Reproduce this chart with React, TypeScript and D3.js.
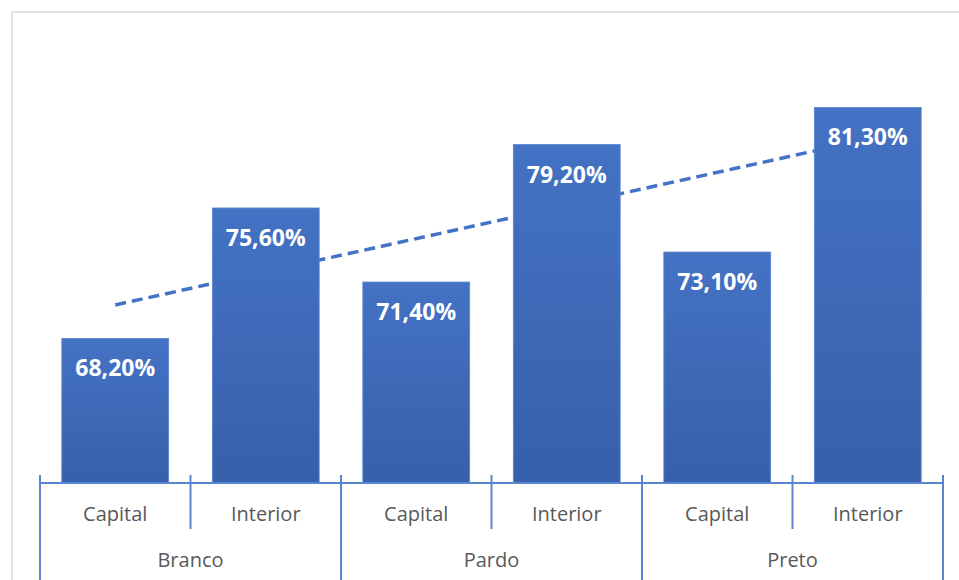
import { useEffect, useRef } from 'react';
import * as d3 from 'd3';

const groups = ['Branco', 'Pardo', 'Preto'];
const subCategories = ['Capital', 'Interior'];
const values = [68.2, 75.6, 71.4, 79.2, 73.1, 81.3];
const yDomain = [60, 85];

const W = 959;
const H = 580;

export default function App() {
  const ref = useRef<SVGSVGElement>(null);

  useEffect(() => {
    const svg = d3.select(ref.current);
    svg.selectAll('*').remove();

    const left = 40;
    const right = 943;
    const baseline = 483;
    const font = '"Open Sans", "Noto Sans", sans-serif';
    const blue = '#4472C4';

    const data = values.map((v, i) => ({
      key: `${groups[Math.floor(i / 2)]}-${subCategories[i % 2]}`,
      group: groups[Math.floor(i / 2)],
      sub: subCategories[i % 2],
      value: v,
      idx: i,
    }));

    const x = d3.scaleBand<string>()
      .domain(data.map(d => d.key))
      .range([left, right])
      .paddingInner(0.29)
      .paddingOuter(0.145);

    const y = d3.scaleLinear().domain(yDomain).range([baseline, baseline - 25 * 17.63]);

    const step = (right - left) / values.length;

    // chart frame
    svg.append('path')
      .attr('d', `M12,${H} L12,12 L${W},12`)
      .attr('fill', 'none')
      .attr('stroke', '#D9D9D9')
      .attr('stroke-width', 1.5);

    const defs = svg.append('defs');
    const grad = defs.append('linearGradient')
      .attr('id', 'barGrad')
      .attr('x1', 0).attr('y1', 0).attr('x2', 0).attr('y2', 1);
    grad.append('stop').attr('offset', '0%').attr('stop-color', '#4472C4');
    grad.append('stop').attr('offset', '100%').attr('stop-color', '#3760AA');

    // linear trend line (least squares), drawn behind the bars
    const xs = values.map((_, i) => i + 1);
    const mx = d3.mean(xs)!;
    const my = d3.mean(values)!;
    const slope = d3.sum(xs, (xi, i) => (xi - mx) * (values[i] - my)) / d3.sum(xs, xi => (xi - mx) ** 2);
    const icpt = my - slope * mx;
    const trend = [1, values.length].map(xi => ({
      px: x(data[xi - 1].key)! + x.bandwidth() / 2,
      py: y(icpt + slope * xi),
    }));
    svg.append('line')
      .attr('x1', trend[0].px).attr('y1', trend[0].py)
      .attr('x2', trend[1].px).attr('y2', trend[1].py)
      .attr('stroke', blue)
      .attr('stroke-width', 3.5)
      .attr('stroke-dasharray', '11,6');

    // bars
    svg.selectAll('.bar')
      .data(data)
      .enter().append('rect')
      .attr('x', d => x(d.key)!)
      .attr('y', d => y(d.value))
      .attr('width', x.bandwidth())
      .attr('height', d => baseline - y(d.value))
      .attr('fill', 'url(#barGrad)')
      .attr('stroke', '#5B86D1')
      .attr('stroke-width', 0.8);

    // data labels
    svg.selectAll('.lbl')
      .data(data)
      .enter().append('text')
      .attr('x', d => x(d.key)! + x.bandwidth() / 2)
      .attr('y', d => y(d.value) + 38)
      .attr('text-anchor', 'middle')
      .attr('fill', '#FFFFFF')
      .attr('font-family', font)
      .attr('font-weight', 700)
      .attr('font-size', 23)
      .text(d => d.value.toFixed(2).replace('.', ',') + '%');

    // axis line
    svg.append('line')
      .attr('x1', left).attr('x2', right)
      .attr('y1', baseline).attr('y2', baseline)
      .attr('stroke', '#5A86D0')
      .attr('stroke-width', 2);

    // ticks
    d3.range(values.length + 1).forEach(i => {
      const tx = left + i * step;
      const outer = i % 2 === 0;
      svg.append('line')
        .attr('x1', tx).attr('x2', tx)
        .attr('y1', 475).attr('y2', outer ? H : 529)
        .attr('stroke', '#5A86D0')
        .attr('stroke-width', 2);
    });

    // sub category labels
    svg.selectAll('.sub')
      .data(data)
      .enter().append('text')
      .attr('x', d => left + (d.idx + 0.5) * step)
      .attr('y', 521)
      .attr('text-anchor', 'middle')
      .attr('fill', '#595959')
      .attr('font-family', font)
      .attr('font-size', 20)
      .text(d => d.sub);

    // group labels
    svg.selectAll('.grp')
      .data(groups)
      .enter().append('text')
      .attr('x', (_, i) => left + (i * 2 + 1) * step)
      .attr('y', 567)
      .attr('text-anchor', 'middle')
      .attr('fill', '#595959')
      .attr('font-family', font)
      .attr('font-size', 20)
      .text(d => d);
  }, []);

  return (
    <div style={{ position: 'absolute', left: 0, top: 0 }}>
      <svg ref={ref} width={W} height={H} style={{ display: 'block', background: '#FFFFFF' }} />
    </div>
  );
}
